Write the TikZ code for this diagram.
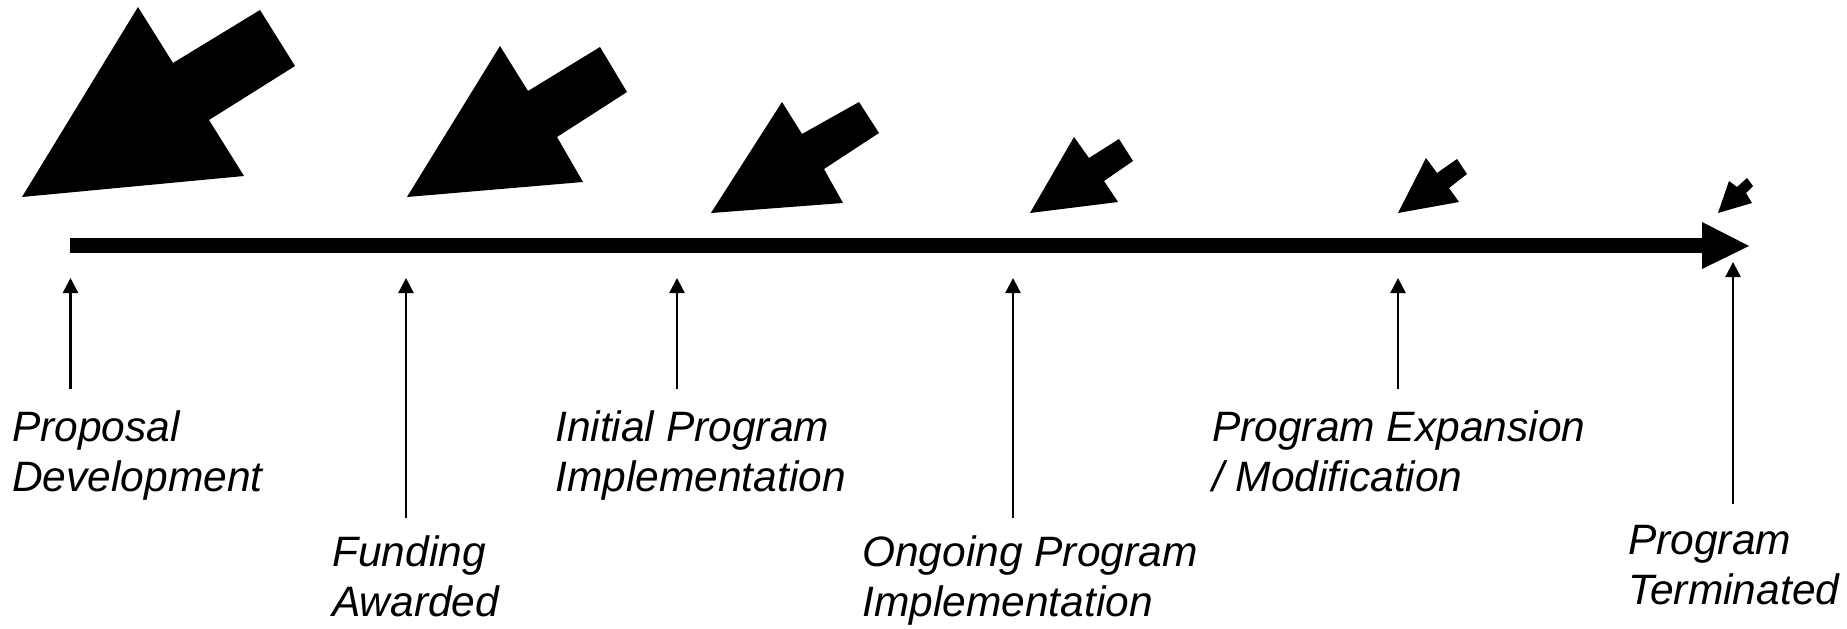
\documentclass[tikz,border=0pt]{standalone}
\usepackage{fontspec}
\setmainfont{Liberation Sans}
\usetikzlibrary{arrows.meta}
\begin{document}
\begin{tikzpicture}[x=1bp,y=-1bp,
  phase/.style={anchor=base west,align=left,inner sep=0pt,
    font=\fontsize{42.5bp}{50bp}\selectfont\itshape},
  marker/.style={line width=2.4bp,-{Triangle[width=15bp,length=15bp]}},
  blk/.style={fill=black,draw=none}]
\useasboundingbox (0,0) rectangle (1847,629);

% time axis
\fill[black] (70,238) rectangle (1703,253);
\fill[black] (1702,222) -- (1749,246) -- (1702,269) -- cycle;

% block arrows, shrinking along the axis
\fill[blk] (22,197) -- (138,7) -- (173,63) -- (260,10) -- (295,66) -- (209,120) -- (244,176) -- cycle;
\fill[blk] (407,197) -- (500,46) -- (528,91) -- (600,47) -- (627,92) -- (557,137) -- (583,182) -- cycle;
\fill[blk] (711,213) -- (782,102) -- (802,134) -- (859,102) -- (879,133) -- (824,169) -- (843,203) -- cycle;
\fill[blk] (1030,213) -- (1074,137) -- (1089,158) -- (1119,139) -- (1133,161) -- (1104,181) -- (1118,202) -- cycle;
\fill[blk] (1398,213) -- (1426,158) -- (1437,173) -- (1457,159) -- (1467,174) -- (1449,188) -- (1459,202) -- cycle;
\fill[blk] (1718,213) -- (1729,181) -- (1737,187) -- (1747,178) -- (1753,186) -- (1746,193) -- (1752,203) -- cycle;

% phase labels (placed by the baseline of their last line)
\node[phase] (l1) at (12,491) {Proposal\\Development};
\node[phase] (l2) at (332,616) {Funding\\Awarded};
\node[phase] (l3) at (555,491) {Initial Program\\Implementation};
\node[phase] (l4) at (862,616) {Ongoing Program\\Implementation};
\node[phase] (l5) at (1212,491) {Program Expansion\\/ Modification};
\node[phase] (l6) at (1628,604) {Program\\Terminated};

% markers pointing at the axis
\coordinate (b1) at (70.5,389);  \coordinate (t1) at (70.5,278);
\coordinate (b2) at (406,518);   \coordinate (t2) at (406,278);
\coordinate (b3) at (677,389);   \coordinate (t3) at (677,278);
\coordinate (b4) at (1013,518);  \coordinate (t4) at (1013,278);
\coordinate (b5) at (1398,389);  \coordinate (t5) at (1398,278);
\coordinate (b6) at (1733,504);  \coordinate (t6) at (1733,262);
\foreach \i in {1,...,6} \draw[marker] (b\i) -- (t\i);
\end{tikzpicture}
\end{document}
